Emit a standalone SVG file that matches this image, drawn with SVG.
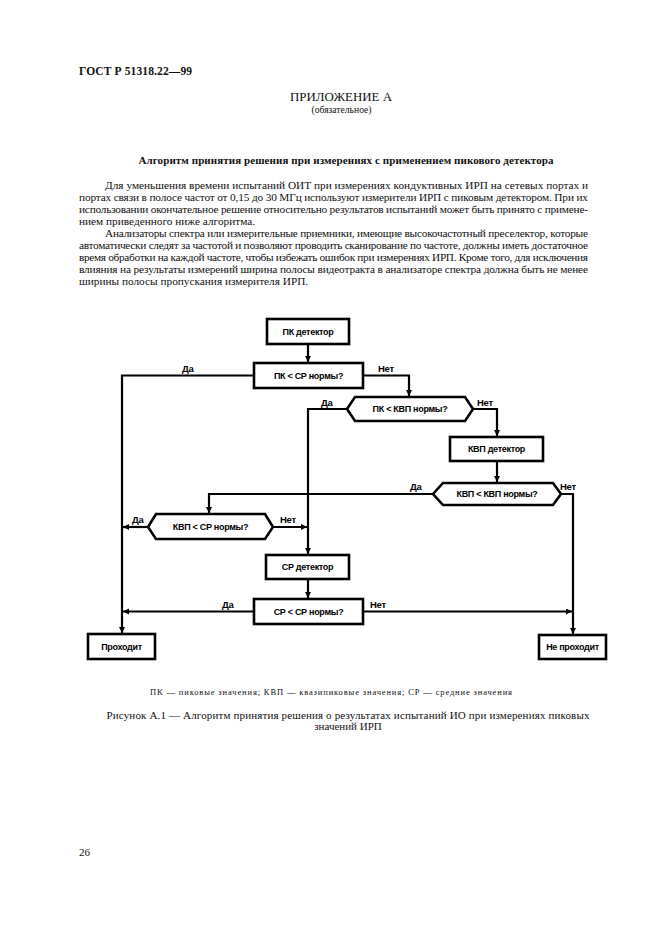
<svg xmlns="http://www.w3.org/2000/svg" width="661" height="936" viewBox="0 0 661 936">
<style>
.serif{font-family:"Liberation Serif","DejaVu Serif",serif;fill:#111}
.p{font-size:11.3px}
.node rect,.node polygon{fill:#fff;stroke:#000;stroke-width:2.6}
.node text{font-family:"Liberation Sans",Arial,sans-serif;font-weight:bold;font-size:9px;text-anchor:middle;fill:#000;letter-spacing:-0.3px}
.conn path{fill:none;stroke:#000;stroke-width:2.2}
.lbl{font-family:"Liberation Sans",Arial,sans-serif;font-weight:bold;font-size:9.5px;fill:#000;letter-spacing:-0.3px}
</style>
<defs>
<marker id="a" markerUnits="userSpaceOnUse" markerWidth="10" markerHeight="8" refX="7" refY="3" orient="auto">
<path d="M0,0 L6,3 L0,6 z" fill="#000"/>
</marker>
</defs>
<rect width="661" height="936" fill="#fff"/>
<g id="header">
<text class="serif" x="79" y="75" font-size="11.5" font-weight="bold" textLength="113" lengthAdjust="spacing">ГОСТ Р 51318.22—99</text>
<text class="serif" x="290" y="101" font-size="11.5" textLength="102" lengthAdjust="spacingAndGlyphs">ПРИЛОЖЕНИЕ А</text>
<text class="serif" x="311.5" y="113" font-size="10" textLength="60" lengthAdjust="spacingAndGlyphs">(обязательное)</text>
<text class="serif" x="138.5" y="164" font-size="11" font-weight="bold" textLength="415" lengthAdjust="spacing">Алгоритм принятия решения при измерениях с применением пикового детектора</text>
</g>
<g id="body" class="serif p">
<text x="105" y="189" textLength="483" lengthAdjust="spacing">Для уменьшения времени испытаний ОИТ при измерениях кондуктивных ИРП на сетевых портах и</text>
<text x="79" y="201" textLength="509" lengthAdjust="spacing">портах связи в полосе частот от 0,15 до 30 МГц используют измерители ИРП с пиковым детектором. При их</text>
<text x="79" y="213" textLength="509" lengthAdjust="spacing">использовании окончательное решение относительно результатов испытаний может быть принято с примене-</text>
<text x="79" y="225">нием приведенного ниже алгоритма.</text>
<text x="105" y="237" textLength="483" lengthAdjust="spacing">Анализаторы спектра или измерительные приемники, имеющие высокочастотный преселектор, которые</text>
<text x="79" y="249" textLength="509" lengthAdjust="spacing">автоматически следят за частотой и позволяют проводить сканирование по частоте, должны иметь достаточное</text>
<text x="79" y="261" textLength="509" lengthAdjust="spacing">время обработки на каждой частоте, чтобы избежать ошибок при измерениях ИРП. Кроме того, для исключения</text>
<text x="79" y="273" textLength="509" lengthAdjust="spacing">влияния на результаты измерений ширина полосы видеотракта в анализаторе спектра должна быть не менее</text>
<text x="79" y="285">ширины полосы пропускания измерителя ИРП.</text>
</g>
<g id="connectors" class="conn">
<path d="M308,344 V363" marker-end="url(#a)"/>
<path d="M254,375.5 H122 V634" marker-end="url(#a)"/>
<path d="M363,375.5 H409 V397" marker-end="url(#a)"/>
<path d="M347,409 H308 V555" marker-end="url(#a)"/>
<path d="M473,409 H497 V437" marker-end="url(#a)"/>
<path d="M497,461 V483" marker-end="url(#a)"/>
<path d="M433,494 H209 V514" marker-end="url(#a)"/>
<path d="M561,494 H573 V635" marker-end="url(#a)"/>
<path d="M148,527 H122" marker-end="url(#a)"/>
<path d="M273,527 H308" marker-end="url(#a)"/>
<path d="M308,579 V599" marker-end="url(#a)"/>
<path d="M254,611.5 H122" marker-end="url(#a)"/>
<path d="M363,611.5 H573" marker-end="url(#a)"/>
</g>
<g id="labels">
<text class="lbl" x="182" y="372">Да</text>
<text class="lbl" x="378" y="372">Нет</text>
<text class="lbl" x="321" y="406">Да</text>
<text class="lbl" x="477" y="406">Нет</text>
<text class="lbl" x="410" y="490">Да</text>
<text class="lbl" x="560" y="490">Нет</text>
<text class="lbl" x="132" y="523">Да</text>
<text class="lbl" x="280" y="523">Нет</text>
<text class="lbl" x="222" y="608">Да</text>
<text class="lbl" x="370" y="608">Нет</text>
</g>
<g id="n-pk-det" class="node"><rect x="267" y="319" width="82" height="25"/><text x="308" y="334.5">ПК детектор</text></g>
<g id="n-pk-sr" class="node"><rect x="254" y="363" width="109" height="25"/><text x="308.5" y="378.5">ПК &lt; СР нормы?</text></g>
<g id="n-pk-kvp" class="node"><polygon points="347,409 355,397 465,397 473,409 465,421 355,421"/><text x="410" y="412">ПК &lt; КВП нормы?</text></g>
<g id="n-kvp-det" class="node"><rect x="450" y="437" width="93" height="24"/><text x="496.5" y="452">КВП детектор</text></g>
<g id="n-kvp-kvp" class="node"><polygon points="433,494 443,483 553,483 561,494 553,505 443,505"/><text x="497" y="497">КВП &lt; КВП нормы?</text></g>
<g id="n-kvp-sr" class="node"><polygon points="148,527 156,514 265,514 273,527 265,539 156,539"/><text x="210.5" y="530">КВП &lt; СР нормы?</text></g>
<g id="n-sr-det" class="node"><rect x="266" y="555" width="83" height="24"/><text x="307.5" y="570">СР детектор</text></g>
<g id="n-sr-sr" class="node"><rect x="254" y="599" width="109" height="25"/><text x="308.5" y="614.5">СР &lt; СР нормы?</text></g>
<g id="n-pass" class="node"><rect x="88" y="634" width="67" height="25"/><text x="121.5" y="649.5">Проходит</text></g>
<g id="n-fail" class="node"><rect x="539" y="635" width="67" height="24"/><text x="572.5" y="650">Не проходит</text></g>
<g id="caption" class="serif">
<text x="150" y="695" font-size="8.5" textLength="362" lengthAdjust="spacing">ПК — пиковые значения; КВП — квазипиковые значения; СР — средние значения</text>
<text x="106.5" y="719" font-size="11" textLength="483" lengthAdjust="spacing">Рисунок А.1 — Алгоритм принятия решения о результатах испытаний ИО при измерениях пиковых</text>
<text x="348" y="730" font-size="11" text-anchor="middle">значений ИРП</text>
<text x="79" y="856" font-size="11">26</text>
</g>
</svg>
